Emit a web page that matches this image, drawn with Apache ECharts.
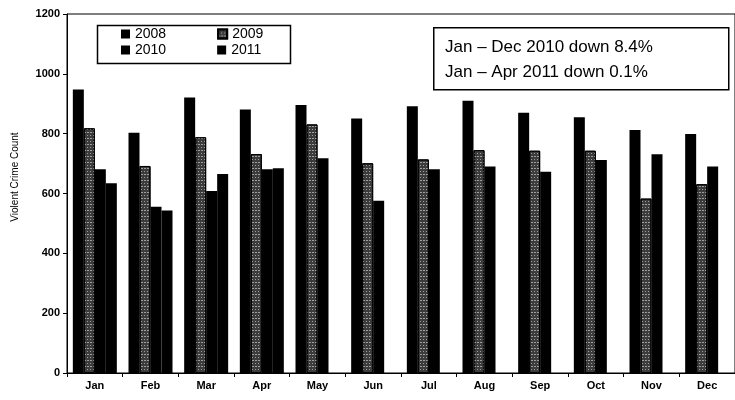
<!DOCTYPE html>
<html>
<head>
<meta charset="utf-8">
<script src="https://cdn.jsdelivr.net/npm/echarts@6/dist/echarts.min.js"></script>
<style>html,body{margin:0;padding:0;background:#fff}#c{width:735px;height:400px}</style>
</head>
<body>
<div id="c"></div>
<script>
var months = ['Jan','Feb','Mar','Apr','May','Jun','Jul','Aug','Sep','Oct','Nov','Dec'];
var yearNames = ['2008','2009','2010','2011'];
var v2008 = [948, 803, 921, 881, 896, 851, 892, 910, 870, 855, 812, 799];
var v2009 = [818, 692, 788, 732, 831, 701, 714, 745, 743, 743, 583, 631];
var v2010 = [681, 556, 608, 681, 718, 576, 681, 690, 673, 712, 731, 690];
var v2011 = [634, 543, 665, 684, null, null, null, null, null, null, null, null];
var yTicks = [0, 200, 400, 600, 800, 1000, 1200];
var note1 = 'Jan \u2013 Dec 2010 down 8.4%';
var note2 = 'Jan \u2013 Apr 2011 down 0.1%';
var yTitle = 'Violent Crime Count';

var font = 'Arial, "Liberation Sans", sans-serif';
var chart = echarts.init(document.getElementById('c'), null, {renderer: 'canvas'});
var speckle = {
  symbol: 'rect', symbolSize: 1,
  color: 'rgba(255,255,255,0.5)',
  dashArrayX: [[1, 2], [2, 1]], dashArrayY: [1, 2], rotation: 0
};
function mkSeries(name, data, style) {
  return {
    name: name, type: 'bar', data: data, barWidth: 11, barGap: '0%',
    itemStyle: style, emphasis: {disabled: true}, animation: false
  };
}
var legendText = {fontFamily: font, fontSize: 14, color: '#000', lineHeight: 16};
var option = {
  animation: false,
  grid: {left: 67, right: -12, top: 14, bottom: 27, show: true, borderColor: '#000', borderWidth: 1, backgroundColor: 'transparent'},
  legend: [
    {data: [yearNames[0], yearNames[1]], left: 121, top: 26, padding: 0, itemGap: 51, itemWidth: 9, itemHeight: 9,
     icon: 'rect', selectedMode: false, textStyle: legendText},
    {data: [yearNames[2], yearNames[3]], left: 121, top: 42, padding: 0, itemGap: 51, itemWidth: 9, itemHeight: 9,
     icon: 'rect', selectedMode: false, textStyle: legendText}
  ],
  xAxis: {
    type: 'category', data: months, boundaryGap: true,
    axisLine: {lineStyle: {color: '#000', width: 1}},
    axisTick: {show: true, inside: false, length: 4, lineStyle: {color: '#000'}},
    axisLabel: {color: '#000', fontFamily: font, fontSize: 11, fontWeight: 'bold', margin: 7}
  },
  yAxis: {
    type: 'value', min: yTicks[0], max: yTicks[yTicks.length - 1], interval: yTicks[1] - yTicks[0],
    splitLine: {show: false},
    axisLine: {show: true, lineStyle: {color: '#000', width: 1}},
    axisTick: {show: true, length: 4, lineStyle: {color: '#000'}},
    axisLabel: {color: '#000', fontFamily: font, fontSize: 11, fontWeight: 'bold', margin: 7,
                formatter: function (v) { return String(v); }}
  },
  series: [
    mkSeries(yearNames[0], v2008, {color: '#000'}),
    mkSeries(yearNames[1], v2009, {color: '#3c3c3c', borderColor: '#000', borderWidth: 1, decal: speckle}),
    mkSeries(yearNames[2], v2010, {color: '#000'}),
    mkSeries(yearNames[3], v2011, {color: '#000'})
  ],
  graphic: [
    {type: 'rect', left: 95, top: 23, shape: {width: 193, height: 38}, style: {fill: 'none', stroke: '#000', lineWidth: 1.5}, z: 10},
    {type: 'rect', left: 433, top: 27, shape: {width: 295, height: 62}, style: {fill: '#fff', stroke: '#000', lineWidth: 1.5}, z: 10},
    {type: 'text', left: 445, top: 35, style: {text: note1 + '\n' + note2, font: '17px ' + font, fill: '#000', lineHeight: 25}, z: 11},
    {type: 'text', x: 15, y: 177, rotation: Math.PI / 2, style: {text: yTitle, font: '10px ' + font, fill: '#000', align: 'center', verticalAlign: 'middle'}, z: 11}
  ]
};
chart.setOption(option);
</script>
</body>
</html>
